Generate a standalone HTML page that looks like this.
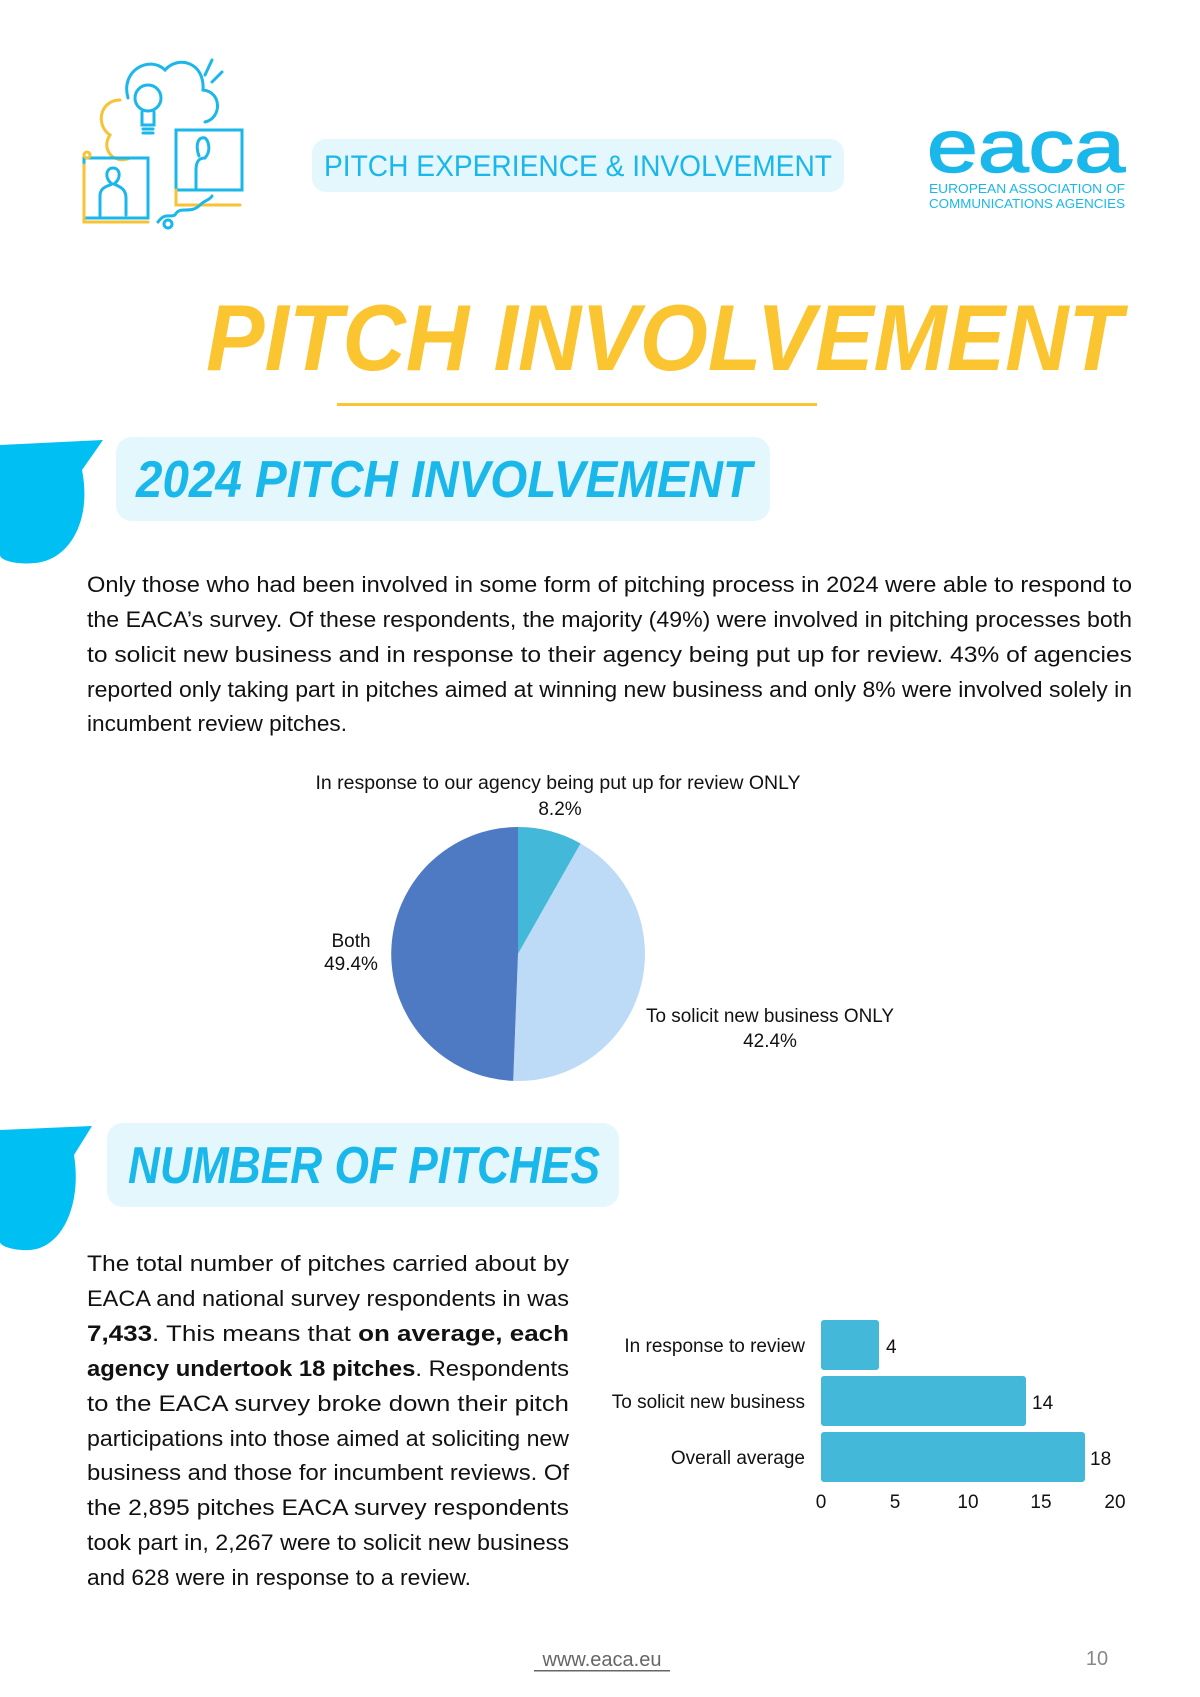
<!DOCTYPE html>
<html><head><meta charset="utf-8"><style>
html,body{margin:0;padding:0;background:#fff;}
svg{display:block;}
text{font-family:"Liberation Sans",sans-serif;}
</style></head><body>
<svg width="1200" height="1697" viewBox="0 0 1200 1697" xmlns="http://www.w3.org/2000/svg">
<rect width="1200" height="1697" fill="#fff"/>
<g fill="none" stroke-width="3" stroke-linecap="round">
  <path d="M128 98 C120 70 150 55 165 70 C178 55 205 62 203 90 C222 92 222 118 205 122" stroke="#1ab7ea"/>
  <path d="M120 100 C100 100 95 125 110 135 C100 150 115 165 130 158" stroke="#f7c234"/>
  <circle cx="148" cy="98" r="13" stroke="#1ab7ea"/>
  <path d="M142 112 L142 125 L154 125 L154 112 M143 129 L153 129 M143 133 L153 133" stroke="#1ab7ea"/>
  <path d="M205 75 L212 60 M212 82 L222 72" stroke="#1ab7ea"/>
  <rect x="176" y="130" width="66" height="60" stroke="#1ab7ea"/>
  <path d="M176 190 L176 205 L240 205" stroke="#f7c234"/>
  <path d="M196 190 L196 170 C196 160 200 158 205 158 C212 150 208 140 205 138 C198 136 195 145 199 156" stroke="#1ab7ea"/>
  <rect x="84" y="158" width="64" height="60" stroke="#1ab7ea"/>
  <path d="M84 165 L84 222 L148 222" stroke="#f7c234"/>
  <path d="M100 218 L100 196 C100 186 110 186 112 184 C104 178 106 168 113 168 C120 168 122 178 114 184 C118 186 126 188 126 198 L126 215" stroke="#1ab7ea"/>
  <path d="M158 222 C165 212 170 218 175 215 C180 205 190 215 200 205 C205 200 210 200 212 196" stroke="#1ab7ea"/>
  <circle cx="168" cy="224" r="4" stroke="#1ab7ea"/>
  <circle cx="87" cy="155" r="3" stroke="#f7c234"/>
</g>
<rect x="312" y="139" width="532" height="53" rx="14" fill="#e3f7fd"/>
<text x="324" y="176" font-size="30" fill="#1ab7ea" textLength="508" lengthAdjust="spacingAndGlyphs">PITCH EXPERIENCE &amp; INVOLVEMENT</text>
<text x="927" y="172" font-size="74" fill="#1ab7ea" stroke="#1ab7ea" stroke-width="1.5" textLength="198" lengthAdjust="spacingAndGlyphs">eaca</text>
<text x="929" y="193" font-size="13" fill="#1ab7ea" textLength="196" lengthAdjust="spacingAndGlyphs">EUROPEAN ASSOCIATION OF</text>
<text x="929" y="208" font-size="13" fill="#1ab7ea" textLength="196" lengthAdjust="spacingAndGlyphs">COMMUNICATIONS AGENCIES</text>
<text x="206" y="370" font-size="94" font-weight="bold" font-style="italic" fill="#fbc531" textLength="916" lengthAdjust="spacingAndGlyphs">PITCH INVOLVEMENT</text>
<rect x="337" y="403" width="480" height="3" fill="#fbc531"/>
<path d="M0 445 L103 440 L82 470 C92 520 70 560 35 563 C15 565 0 560 0 555 Z" fill="#00bff3"/>
<rect x="116" y="437" width="654" height="84" rx="16" fill="#e3f7fd"/>
<text x="136" y="497" font-size="52" font-weight="bold" font-style="italic" fill="#1ab7ea" textLength="616" lengthAdjust="spacingAndGlyphs">2024 PITCH INVOLVEMENT</text>
<g font-size="22" fill="#111">
<text x="87" y="592" textLength="1045" lengthAdjust="spacingAndGlyphs">Only those who had been involved in some form of pitching process in 2024 were able to respond to</text>
<text x="87" y="627" textLength="1045" lengthAdjust="spacingAndGlyphs">the EACA’s survey. Of these respondents, the majority (49%) were involved in pitching processes both</text>
<text x="87" y="662" textLength="1045" lengthAdjust="spacingAndGlyphs">to solicit new business and in response to their agency being put up for review. 43% of agencies</text>
<text x="87" y="697" textLength="1045" lengthAdjust="spacingAndGlyphs">reported only taking part in pitches aimed at winning new business and only 8% were involved solely in</text>
<text x="87" y="731" textLength="260" lengthAdjust="spacingAndGlyphs">incumbent review pitches.</text>
</g>
<g transform="translate(518,954)">
  <path d="M0 0 L0 -127 A127 127 0 0 1 62.6 -110.5 Z" fill="#43b8d8"/>
  <path d="M0 0 L62.6 -110.5 A127 127 0 0 1 -4.8 126.9 Z" fill="#bddbf7"/>
  <path d="M0 0 L-4.8 126.9 A127 127 0 0 1 0 -127 Z" fill="#4e7ac4"/>
</g>
<g font-size="19" fill="#111" text-anchor="middle">
<text x="558" y="789" textLength="485" lengthAdjust="spacingAndGlyphs">In response to our agency being put up for review ONLY</text>
<text x="560" y="815">8.2%</text>
<text x="351" y="947">Both</text>
<text x="351" y="970">49.4%</text>
<text x="770" y="1022" textLength="248" lengthAdjust="spacingAndGlyphs">To solicit new business ONLY</text>
<text x="770" y="1047">42.4%</text>
</g>
<path d="M0 1130 L92 1126 L74 1155 C82 1205 62 1248 30 1250 C14 1251 0 1246 0 1242 Z" fill="#00bff3"/>
<rect x="107" y="1123" width="512" height="84" rx="16" fill="#e3f7fd"/>
<text x="128" y="1183" font-size="52" font-weight="bold" font-style="italic" fill="#1ab7ea" textLength="472" lengthAdjust="spacingAndGlyphs">NUMBER OF PITCHES</text>
<g font-size="22" fill="#111">
<text x="87" y="1271" textLength="482" lengthAdjust="spacingAndGlyphs">The total number of pitches carried about by</text>
<text x="87" y="1306" textLength="482" lengthAdjust="spacingAndGlyphs">EACA and national survey respondents in was</text>
<text x="87" y="1341" textLength="482" lengthAdjust="spacingAndGlyphs"><tspan font-weight="bold">7,433</tspan>. This means that <tspan font-weight="bold">on average, each</tspan></text>
<text x="87" y="1376" textLength="482" lengthAdjust="spacingAndGlyphs"><tspan font-weight="bold">agency undertook 18 pitches</tspan>. Respondents</text>
<text x="87" y="1411" textLength="482" lengthAdjust="spacingAndGlyphs">to the EACA survey broke down their pitch</text>
<text x="87" y="1446" textLength="482" lengthAdjust="spacingAndGlyphs">participations into those aimed at soliciting new</text>
<text x="87" y="1480" textLength="482" lengthAdjust="spacingAndGlyphs">business and those for incumbent reviews. Of</text>
<text x="87" y="1515" textLength="482" lengthAdjust="spacingAndGlyphs">the 2,895 pitches EACA survey respondents</text>
<text x="87" y="1550" textLength="482" lengthAdjust="spacingAndGlyphs">took part in, 2,267 were to solicit new business</text>
<text x="87" y="1585" textLength="384" lengthAdjust="spacingAndGlyphs">and 628 were in response to a review.</text>
</g>
<g fill="#43b8d8">
  <rect x="821" y="1320" width="58" height="50" rx="3"/>
  <rect x="821" y="1376" width="205" height="50" rx="3"/>
  <rect x="821" y="1432" width="264" height="50" rx="3"/>
</g>
<g font-size="19" fill="#111">
<text x="805" y="1352" text-anchor="end">In response to review</text>
<text x="805" y="1408" text-anchor="end">To solicit new business</text>
<text x="805" y="1464" text-anchor="end">Overall average</text>
<text x="886" y="1353">4</text>
<text x="1032" y="1409">14</text>
<text x="1090" y="1465">18</text>
</g>
<g font-size="19" fill="#111" text-anchor="middle">
<text x="821" y="1508">0</text>
<text x="895" y="1508">5</text>
<text x="968" y="1508">10</text>
<text x="1041" y="1508">15</text>
<text x="1115" y="1508">20</text>
</g>
<text x="602" y="1666" font-size="20" fill="#666" text-anchor="middle">www.eaca.eu</text>
<rect x="534" y="1670" width="136" height="1.5" fill="#666"/>
<text x="1097" y="1665" font-size="20" fill="#888" text-anchor="middle">10</text>
</svg>
</body></html>
